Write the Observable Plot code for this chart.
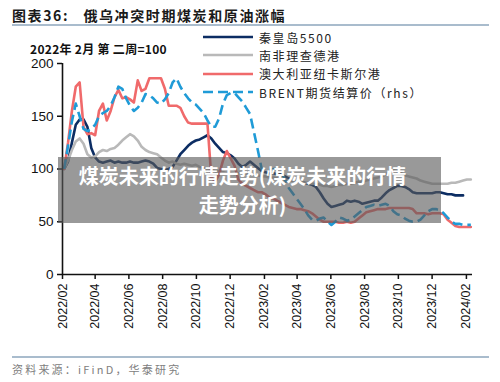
<!DOCTYPE html>
<html>
<head>
<meta charset="utf-8">
<script src="https://cdn.jsdelivr.net/npm/d3@7"></script>
<script src="https://cdn.jsdelivr.net/npm/@observablehq/plot@0.6"></script>
<style>
  html, body { margin: 0; padding: 0; background: #fff; }
  #wrap { position: relative; width: 500px; height: 382px; overflow: hidden; font-family: "Noto Sans CJK SC", "Liberation Sans", sans-serif; }
  #chart { position: absolute; left: 0; top: 0; }
  .title { position: absolute; left: 12px; top: 5px; font-size: 14px; font-weight: bold; color: #1a1a1a; letter-spacing: 1.6px; white-space: nowrap; }
  .rule { position: absolute; left: 12px; width: 477px; height: 2px; background: #a9bccd; }
  .unit { position: absolute; left: 30px; top: 40px; font-size: 12px; font-weight: bold; color: #111; white-space: nowrap; letter-spacing: 0.3px; }
  .legend { position: absolute; left: 203px; top: 28px; }
  .legend .row { position: relative; height: 18.3px; display: flex; align-items: center; }
  .legend svg { width: 50px; height: 6px; margin-right: 6px; }
  .legend span { font-size: 12px; color: #222; letter-spacing: 1.6px; white-space: nowrap; }
  .source { position: absolute; left: 12px; top: 361px; font-size: 11px; color: #808080; letter-spacing: 2.2px; white-space: nowrap; }
  .veil { position: absolute; left: 58px; top: 157px; width: 383px; height: 66px; background: rgba(90,90,90,0.62);
          color: #fff; font-weight: bold; font-size: 20px; line-height: 29px; text-align: center; padding-top: 4px; padding-right: 14px; box-sizing: border-box; white-space: nowrap; }
</style>
</head>
<body>
<div id="wrap">
  <div id="chart"></div>
  <div class="title">图表36:&nbsp;&nbsp;&nbsp;俄乌冲突时期煤炭和原油涨幅</div>
  <div class="rule" style="top:24px"></div>
  <div class="unit">2022年 2月 第 二周=100</div>
  <div class="legend" id="legend"></div>
  <div class="veil">煤炭未来的行情走势(煤炭未来的行情<br>走势分析)</div>
  <div class="rule" style="top:356px"></div>
  <div class="source">资料来源：iFinD，华泰研究</div>
</div>
<script>
// Weekly index, 2022 Feb week 2 = 100
const seriesNames = ["秦皇岛5500", "南非理查德港", "澳大利亚纽卡斯尔港", "BRENT期货结算价（rhs）"];
const seriesColors = ["#0c2d63", "#b9b9b9", "#f06a6b", "#1f9bd7"];

const qinhuangdao = [100,107,125,142,147,147,140,120,111,107,106,107,108,106,107,106,106,107,106,106,
  107,108,107,105,101,100,99,100,102,108,114,118,122,125,127,128,130,132,129,124,
  120,116,115,113,110,105,102,104,107,104,101,98,97,96,96,95,95,93,91,89,
  88,88,87,86,85,83,78,72,67,64,65,66,67,70,69,70,69,67,68,69,
  70,70,73,77,80,82,84,84,83,81,78,77,77,77,77,77,78,78,77,76,
  76,75,75,75];

const richardsBay = [100,108,118,126,129,124,114,111,112,116,118,117,119,120,123,127,130,133,131,127,
  121,118,116,115,114,111,108,106,107,105,104,105,104,103,104,102,101,100,99,98,
  98,97,96,96,95,96,97,96,95,95,94,93,93,92,92,91,90,90,89,89,
  88,88,87,87,86,86,85,84,84,83,84,85,85,86,86,87,88,88,89,90,
  91,92,93,95,97,99,98,96,94,93,92,91,89,88,87,86,86,86,86,86,
  87,87,88,89,90,90];

const newcastle = [100,125,155,178,182,140,133,134,132,155,162,146,155,168,175,167,168,166,163,184,
  174,176,186,186,186,186,176,160,160,160,158,150,144,143,143,143,143,143,92,88,
  95,108,117,110,103,90,86,84,82,80,78,78,76,73,72,70,68,66,64,63,
  62,62,61,60,58,55,52,50,50,50,50,49,49,50,49,50,53,56,59,60,
  61,62,62,62,63,63,63,63,63,63,62,58,58,58,57,58,58,58,57,52,
  49,46,45,45,45,45];

const brent = [100,122,145,162,150,138,136,138,142,150,153,155,160,168,178,176,167,160,155,158,
  163,171,170,167,163,162,166,172,182,186,178,172,167,163,161,157,153,146,140,140,
  148,162,170,172,172,168,164,158,152,135,118,100,98,99,100,100,98,90,82,77,
  72,67,62,56,52,51,53,54,50,47,50,54,53,51,52,55,58,61,64,65,
  66,65,66,67,65,60,57,56,53,51,50,50,52,56,60,62,62,61,58,54,
  50,48,48,47,47,47];

const tickLabels = ["2022/02","2022/04","2022/06","2022/08","2022/10","2022/12","2023/02",
  "2023/04","2023/06","2023/08","2023/10","2023/12","2024/02"];
const yTicks = [0, 50, 100, 150, 200];

const firstWeek = new Date(Date.UTC(2022, 1, 4));
const xDomain = [new Date(Date.UTC(2022, 1, 1)), new Date(Date.UTC(2024, 1, 12))];
const parseTick = d3.utcParse("%Y/%m");
const tickDates = tickLabels.map(parseTick);

const rows = [];
[qinhuangdao, richardsBay, newcastle, brent].forEach((vals, s) => {
  vals.forEach((v, i) => rows.push({series: seriesNames[s], date: d3.utcDay.offset(firstWeek, 7 * i), value: v}));
});
const lineOf = (name, extra = {}) => Plot.line(rows.filter(d => d.series === name), {
  x: "date", y: "value", stroke: seriesColors[seriesNames.indexOf(name)], strokeWidth: 2.6, strokeLinejoin: "round", ...extra
});

const chart = Plot.plot({
  width: 500,
  height: 382,
  marginLeft: 62,
  marginRight: 28,
  marginTop: 63,
  marginBottom: 108,
  style: {fontFamily: "'Liberation Sans', Arial, sans-serif", color: "#111", background: "transparent", overflow: "visible"},
  x: {type: "utc", domain: xDomain},
  y: {domain: [0, 200]},
  marks: [
    Plot.axisY({ticks: yTicks, tickSize: 5, tickPadding: 4, fontSize: 13.5, label: null, stroke: "#111", strokeWidth: 1.5}),
    Plot.axisX({ticks: tickDates, tickFormat: d3.utcFormat("%Y/%m"), tickRotate: -90, tickSize: 5, tickPadding: 4,
      fontSize: 12.5, label: null, stroke: "#111", strokeWidth: 1.5}),
    lineOf(seriesNames[0]),
    lineOf(seriesNames[1]),
    lineOf(seriesNames[2]),
    lineOf(seriesNames[3], {strokeDasharray: "10,5", strokeLinecap: "butt"}),
    Plot.ruleX([xDomain[0]], {stroke: "#111", strokeWidth: 1.6}),
    Plot.ruleY([0], {stroke: "#111", strokeWidth: 1.6})
  ]
});
document.getElementById("chart").appendChild(chart);

// legend
const legend = document.getElementById("legend");
seriesNames.forEach((name, i) => {
  const row = document.createElement("div");
  row.className = "row";
  const dash = i === 3 ? ' stroke-dasharray="10,5"' : '';
  row.innerHTML = `<svg viewBox="0 0 50 6"><line x1="0" y1="3" x2="50" y2="3" stroke="${seriesColors[i]}" stroke-width="2.6"${dash}/></svg><span>${name}</span>`;
  legend.appendChild(row);
});
</script>
</body>
</html>
